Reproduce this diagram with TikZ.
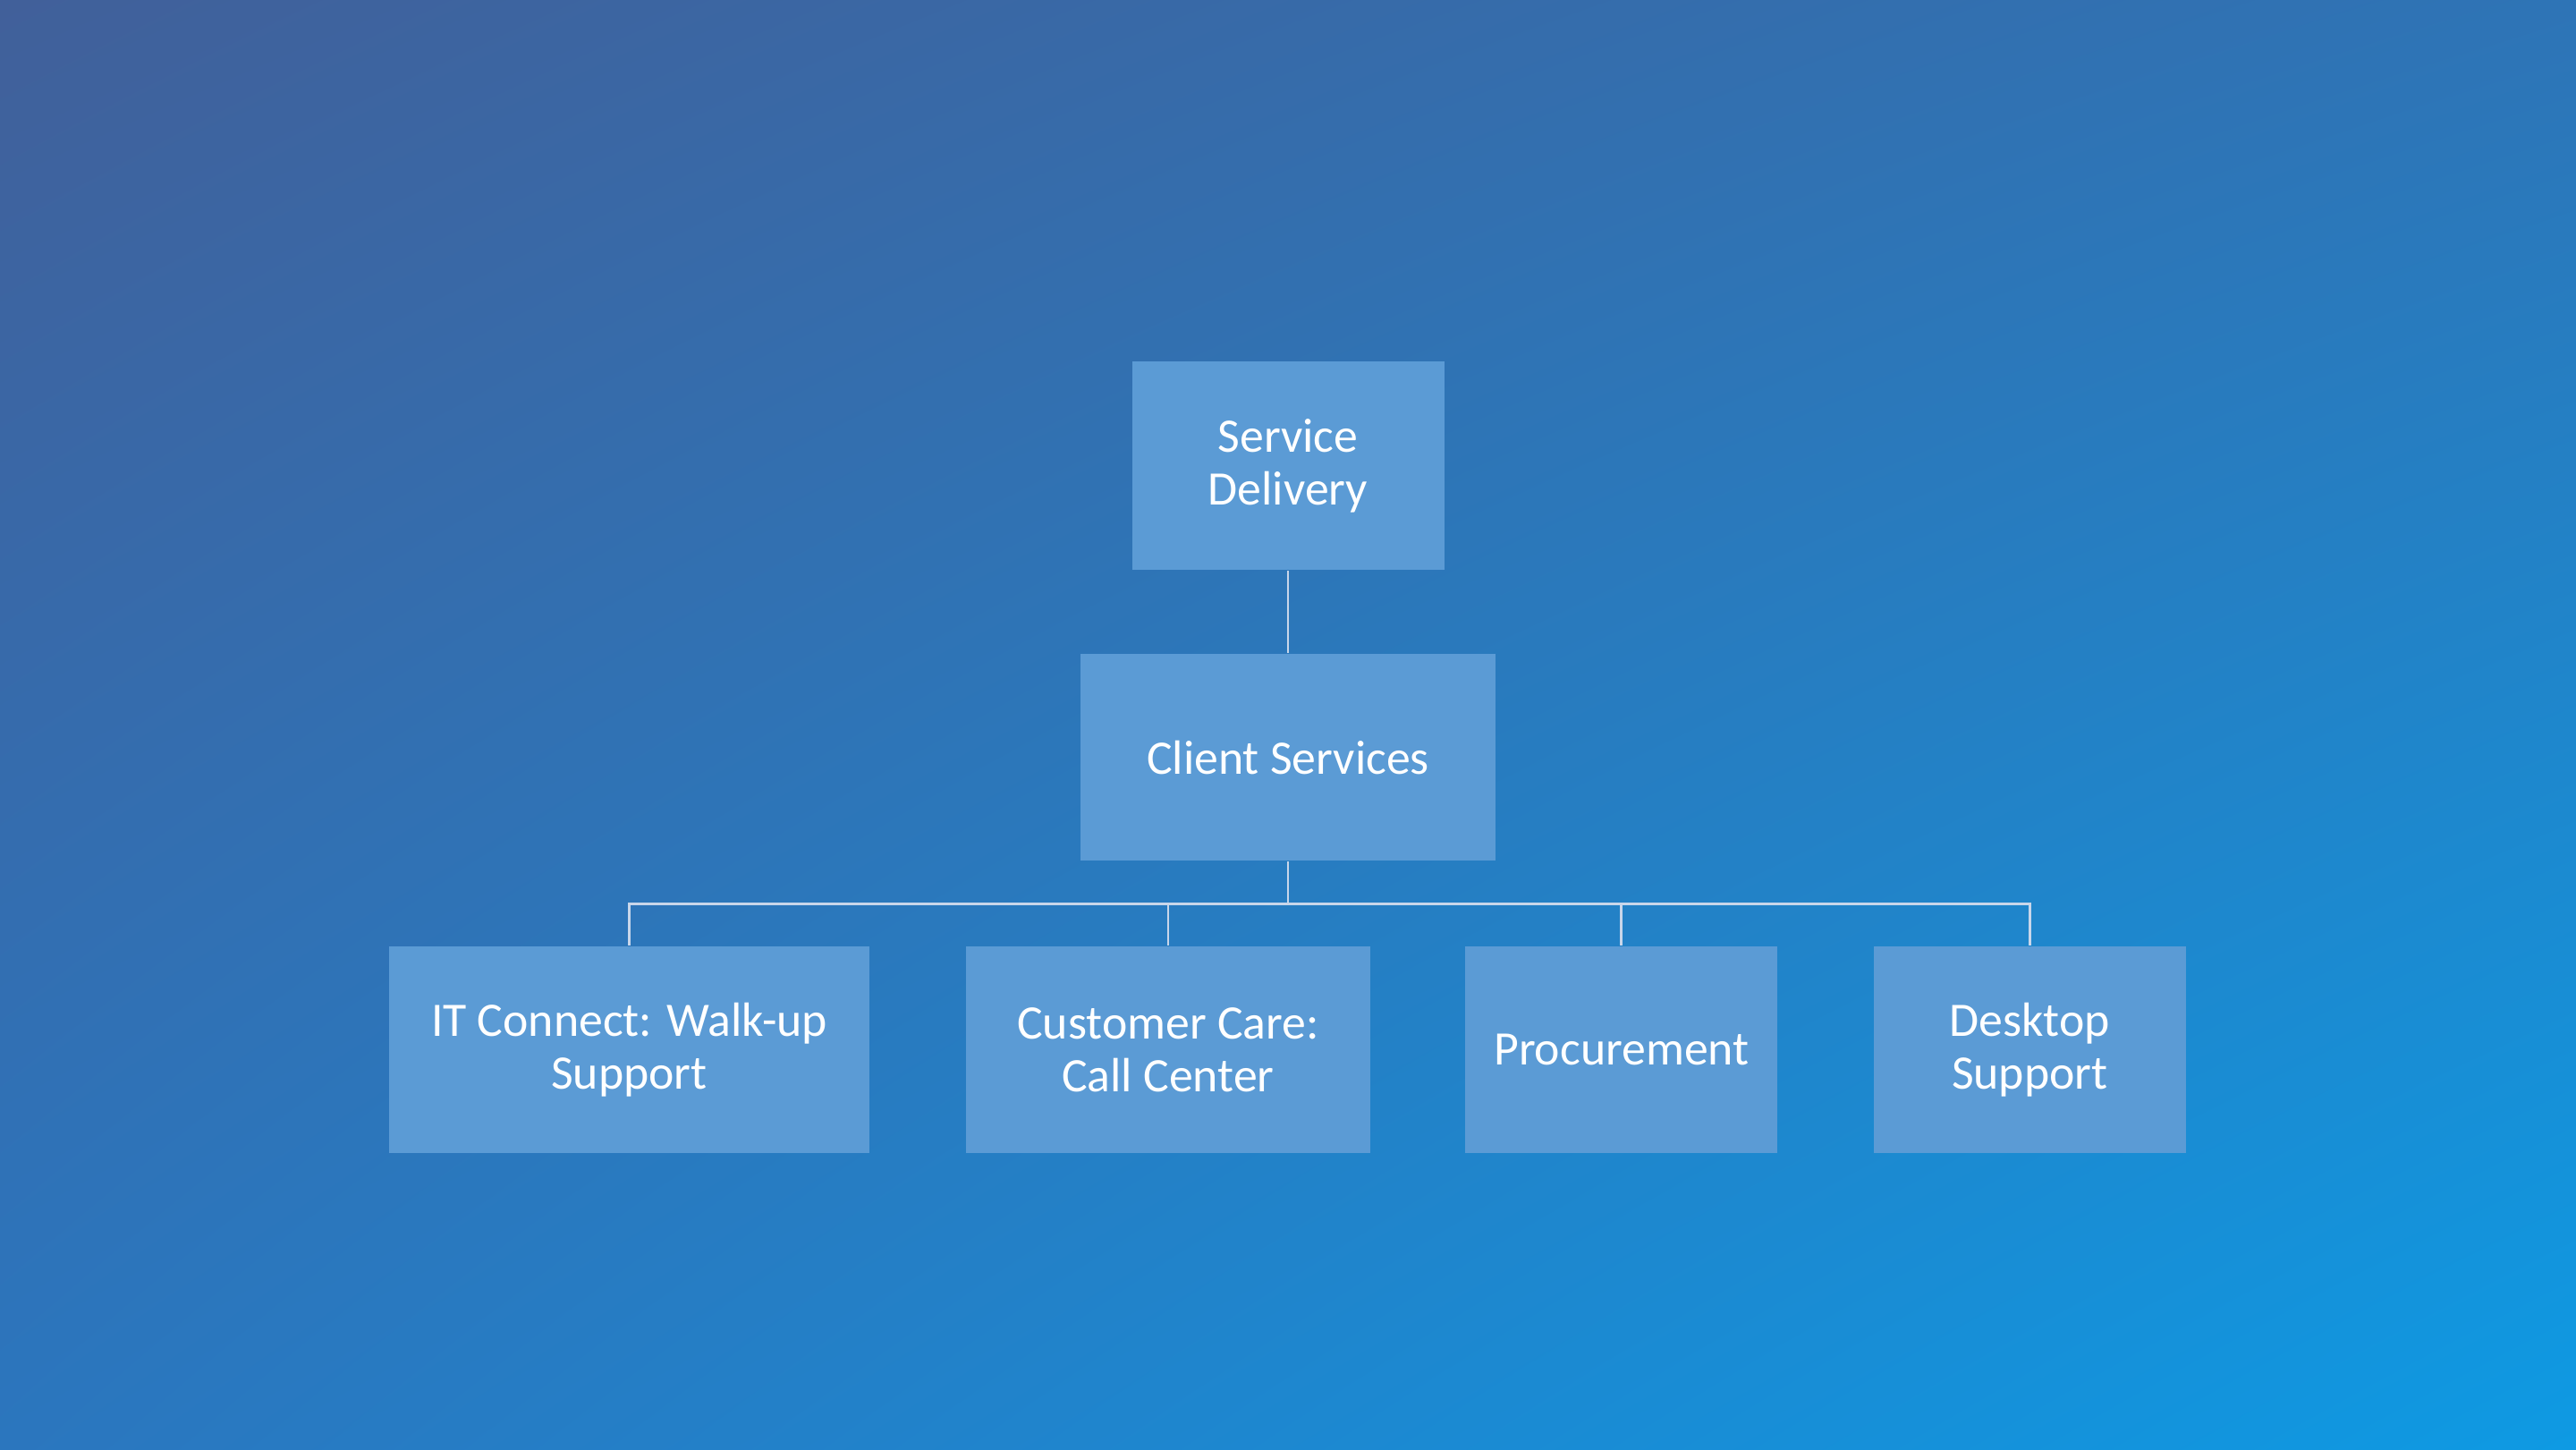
\documentclass[tikz,border=0pt]{standalone}
\usetikzlibrary{shadings}
\usepackage{fontspec}
\setmainfont{Carlito}
\definecolor{ul}{HTML}{41609A}
\definecolor{ur}{HTML}{2E74B6}
\definecolor{ll}{HTML}{2B76BE}
\definecolor{lr}{HTML}{0E9AE3}
\definecolor{boxf}{HTML}{5B9BD5}
\definecolor{ln}{HTML}{C8D6EA}
\begin{document}
\begin{tikzpicture}[x=0.018367cm,y=-0.018367cm,
  box/.style={fill=boxf,draw=none,text=white,align=center,font=\fontsize{15.3}{16.8}\selectfont,inner sep=0pt},
  con/.style={draw=ln,line width=0.8pt}]
\useasboundingbox (0,0) rectangle (1568,882);
\shade[upper left=ul,upper right=ur,lower left=ll,lower right=lr] (0,0) rectangle (1568,882);
\node[box,minimum width=190*0.018367cm,minimum height=127*0.018367cm] (sd) at (784,283.5) {Service\\Delivery};
\node[box,minimum width=253*0.018367cm,minimum height=126*0.018367cm] (cs) at (784,461) {Client Services};
\node[box,minimum width=292*0.018367cm,minimum height=126*0.018367cm] (it) at (383,639) {IT Connect: Walk-up\\Support};
\node[box,minimum width=246*0.018367cm,minimum height=126*0.018367cm] (cc) at (711,639) {Customer Care:\\Call Center};
\node[box,minimum width=190*0.018367cm,minimum height=126*0.018367cm] (pr) at (987,639) {Procurement};
\node[box,minimum width=190*0.018367cm,minimum height=126*0.018367cm] (ds) at (1235.5,639) {Desktop\\Support};
\draw[con] (sd.south) -- (cs.north);
\coordinate (j) at (784,550);
\draw[con] (cs.south) -- (j);
\foreach \n in {it,cc,pr,ds}{\draw[con] (j) -| (\n.north);}
\end{tikzpicture}
\end{document}
